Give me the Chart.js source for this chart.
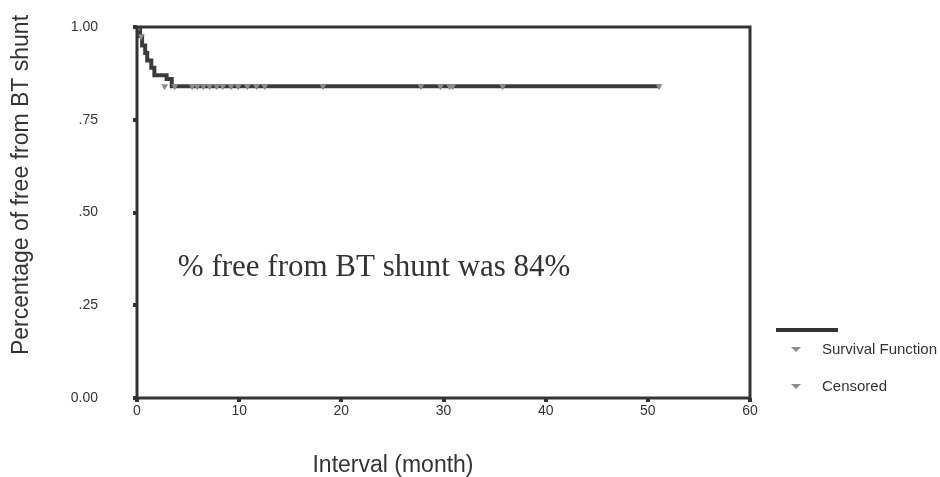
<!DOCTYPE html>
<html>
<head>
<meta charset="utf-8">
<script src="https://cdn.jsdelivr.net/npm/chart.js@4/dist/chart.umd.min.js"></script>
<style>
  html, body { margin: 0; padding: 0; background: #fff; }
  #wrap { width: 940px; height: 477px; }
</style>
</head>
<body>
<div id="wrap"><canvas id="Graph"></canvas></div>
<script>
// Kaplan-Meier step points (months, proportion free)
const eventTimes = [0, 0.3, 0.5, 0.8, 1.0, 1.4, 1.7, 2.9, 3.4, 51.2];
const survival   = [1.0, 0.975, 0.95, 0.93, 0.91, 0.89, 0.87, 0.86, 0.84, 0.84];

// censored observations
const censoredTimes  = [0.2, 0.4, 2.7, 3.7, 5.4, 5.9, 6.5, 7.1, 7.8, 8.4, 9.2, 9.9, 10.8, 11.7, 12.5, 18.2, 27.8, 29.7, 30.6, 30.9, 35.8, 51.1];
const censoredValues = [1.0, 0.975, 0.84, 0.84, 0.84, 0.84, 0.84, 0.84, 0.84, 0.84, 0.84, 0.84, 0.84, 0.84, 0.84, 0.84, 0.84, 0.84, 0.84, 0.84, 0.84, 0.84];

const xTicks = [0, 10, 20, 30, 40, 50, 60];
const yTickLabels = { 0: '0.00', 0.25: '.25', 0.5: '.50', 0.75: '.75', 1: '1.00' };

const xTitle = 'Interval (month)';
const yTitle = 'Percentage of free from BT shunt';
const note = '% free from BT shunt was 84%';

const dark = '#333333';
const grey = '#8c8c8c';
const sans = '"Liberation Sans", Arial, sans-serif';

const frame = {
    id: 'frame',
    afterDatasetsDraw(chart) {
        const { ctx, chartArea: a } = chart;
        ctx.save();
        ctx.strokeStyle = dark;
        ctx.lineWidth = 3;
        ctx.strokeRect(a.left, a.top, a.right - a.left, a.bottom - a.top);
        ctx.restore();
    }
};

const extras = {
    id: 'extras',
    afterDraw(chart) {
        const ctx = chart.ctx;
        const x = chart.scales.x, y = chart.scales.y;
        ctx.save();
        // note inside plot
        ctx.fillStyle = dark;
        ctx.font = '31px "Liberation Serif", serif';
        ctx.textBaseline = 'alphabetic';
        ctx.textAlign = 'left';
        ctx.fillText(note, x.getPixelForValue(4), y.getPixelForValue(0.33));

        // axis titles
        ctx.font = '23px ' + sans;
        ctx.textAlign = 'center';
        ctx.textBaseline = 'middle';
        ctx.fillText(xTitle, 393, 466);
        ctx.save();
        ctx.translate(22, 185);
        ctx.rotate(-Math.PI / 2);
        ctx.fillText(yTitle, 0, 0);
        ctx.restore();

        // legend
        ctx.strokeStyle = dark;
        ctx.lineWidth = 4;
        ctx.beginPath();
        ctx.moveTo(776, 330);
        ctx.lineTo(838, 330);
        ctx.stroke();

        const tri = (cx, cy) => {
            ctx.fillStyle = grey;
            ctx.beginPath();
            ctx.moveTo(cx - 5, cy - 2);
            ctx.lineTo(cx + 5, cy - 2);
            ctx.lineTo(cx, cy + 3);
            ctx.closePath();
            ctx.fill();
        };
        ctx.font = '15px ' + sans;
        ctx.textAlign = 'left';
        ctx.textBaseline = 'middle';
        const labels = chart.data.datasets.map(d => d.label);
        tri(796, 349);
        ctx.fillStyle = dark;
        ctx.fillText(labels[0], 822, 350);
        tri(796, 386);
        ctx.fillStyle = dark;
        ctx.fillText(labels[1], 822, 387);
        ctx.restore();
    }
};

new Chart(document.getElementById('Graph'), {
    type: 'scatter',
    data: {
        datasets: [
            {
                label: 'Survival Function',
                data: eventTimes.map((t, i) => ({ x: t, y: survival[i] })),
                showLine: true,
                stepped: true,
                borderColor: '#3a3a3a',
                borderWidth: 4,
                pointRadius: 0,
                order: 2
            },
            {
                label: 'Censored',
                data: censoredTimes.map((t, i) => ({ x: t, y: censoredValues[i] })),
                pointStyle: 'triangle',
                rotation: 180,
                pointRadius: 4,
                backgroundColor: grey,
                borderColor: grey,
                borderWidth: 0,
                order: 1
            }
        ]
    },
    options: {
        responsive: true,
        maintainAspectRatio: false,
        animation: false,
        layout: { padding: { left: 0, right: 190, top: 27, bottom: 0 } },
        plugins: {
            legend: { display: false },
            tooltip: { enabled: false }
        },
        scales: {
            x: {
                type: 'linear',
                min: 0,
                max: 60,
                afterBuildTicks: s => { s.ticks = xTicks.map(v => ({ value: v })); },
                afterFit: s => { s.height = 79; },
                border: { display: false },
                grid: { drawOnChartArea: false, drawTicks: true, tickLength: 4, lineWidth: 4, color: dark },
                ticks: { padding: 1, color: dark, font: { family: sans, size: 14 } }
            },
            y: {
                min: 0,
                max: 1,
                afterBuildTicks: s => { s.ticks = Object.keys(yTickLabels).map(v => ({ value: Number(v) })); },
                afterFit: s => { s.width = 137; s.paddingTop = 0; s.paddingBottom = 0; },
                border: { display: false },
                grid: { drawOnChartArea: false, drawTicks: true, tickLength: 4, lineWidth: 4, color: dark },
                ticks: {
                    padding: 35,
                    color: dark,
                    font: { family: sans, size: 14 },
                    callback: v => yTickLabels[v]
                }
            }
        }
    },
    plugins: [frame, extras]
});
</script>
</body>
</html>
